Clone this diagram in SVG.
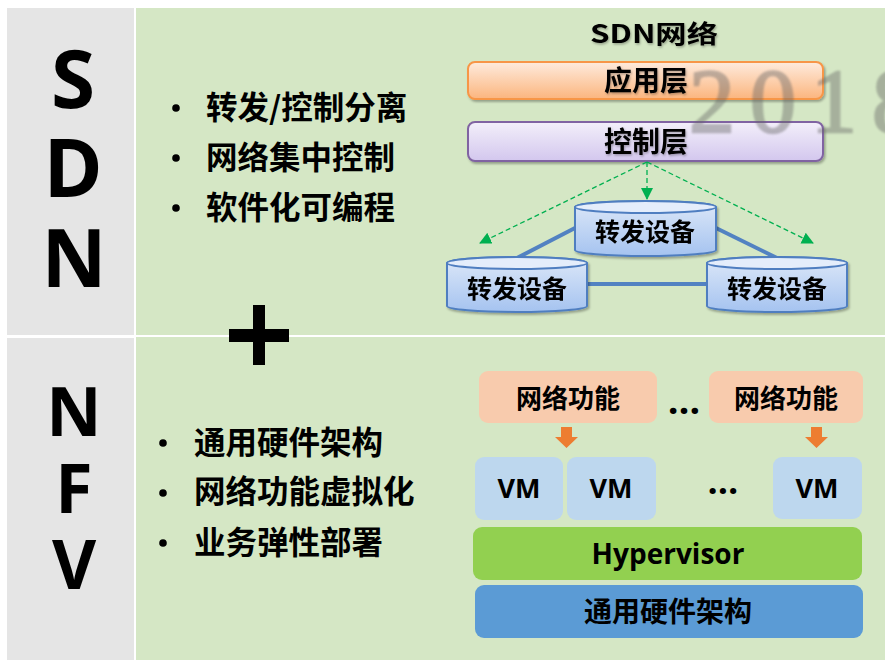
<svg xmlns="http://www.w3.org/2000/svg" width="885" height="660" viewBox="0 0 885 660">
<style>
.cjk{font-family:"Noto Sans CJK SC","Noto Sans",sans-serif;font-weight:bold;fill:#000}
.lat{font-family:"Open Sans","Noto Sans",sans-serif;font-weight:bold;fill:#000}
.big{font-family:"Open Sans","Noto Sans",sans-serif;font-weight:bold;fill:#000;text-anchor:middle}
.c{text-anchor:middle}
.cyl{fill:url(#cylG);stroke:#4F7EC0;stroke-width:2}
.cyltop{fill:#E4EDFB;stroke:#4F7EC0;stroke-width:2}
.link{stroke:#5282C2;stroke-width:4;fill:none}
.dash{stroke:#00B050;stroke-width:1.3;stroke-dasharray:5 3;fill:none}
.nf{fill:#F8CBAD}
.vm{fill:#BDD7EE}
.oarr{fill:#ED7D31}
</style>
<defs>
<linearGradient id="appG" x1="0" y1="0" x2="0" y2="1"><stop offset="0" stop-color="#FEEBDD"/><stop offset="1" stop-color="#FBB57E"/></linearGradient>
<linearGradient id="ctlG" x1="0" y1="0" x2="0" y2="1"><stop offset="0" stop-color="#F3EFFA"/><stop offset="1" stop-color="#D3C7EE"/></linearGradient>
<linearGradient id="cylG" x1="0" y1="0" x2="0" y2="1"><stop offset="0" stop-color="#DDE8F8"/><stop offset="1" stop-color="#A5C3F0"/></linearGradient>
<filter id="sh" x="-10%" y="-20%" width="120%" height="150%"><feDropShadow dx="1.5" dy="2" stdDeviation="1.2" flood-color="#000" flood-opacity="0.3"/></filter>
<filter id="tsh" x="-10%" y="-20%" width="120%" height="150%"><feDropShadow dx="1" dy="1.5" stdDeviation="1" flood-color="#000" flood-opacity="0.3"/></filter>
<filter id="blur"><feGaussianBlur stdDeviation="0.8"/></filter>
<marker id="ga" viewBox="0 0 12 12" refX="11" refY="6" markerWidth="12" markerHeight="12" markerUnits="userSpaceOnUse" orient="auto"><path d="M0,0 L12,6 L0,12 Z" fill="#00B050"/></marker>
</defs>

<rect x="0" y="0" width="885" height="660" fill="#FFFFFF"/>
<!-- panels -->
<rect x="7" y="8" width="127" height="327" fill="#E5E5E5"/>
<rect x="136" y="8" width="749" height="327" fill="#D5E7C5"/>
<rect x="7" y="338" width="127" height="322" fill="#E5E5E5"/>
<rect x="136" y="337" width="749" height="323" fill="#D5E7C5"/>

<!-- side letters -->
<g id="sdn-letters">
<text class="big" x="73" y="108" font-size="80">S</text>
<text class="big" x="73" y="197" font-size="80">D</text>
<text class="big" x="74" y="287" font-size="80">N</text>
</g>
<g id="nfv-letters">
<text class="big" x="74" y="436" font-size="68">N</text>
<text class="big" x="74" y="513" font-size="68">F</text>
<text class="big" x="74" y="589" font-size="68">V</text>
</g>

<!-- plus -->
<g id="plus" fill="#000">
<rect x="253" y="305" width="12" height="60"/>
<rect x="229" y="329" width="60" height="13"/>
</g>

<!-- SDN bullets -->
<g id="sdn-bullets">
<circle cx="176" cy="108" r="3.8" fill="#000"/>
<circle cx="176" cy="158" r="3.8" fill="#000"/>
<circle cx="176" cy="208" r="3.8" fill="#000"/>
<text class="cjk" x="206" y="119" font-size="31.5">转发/控制分离</text>
<text class="cjk" x="206" y="169" font-size="31.5">网络集中控制</text>
<text class="cjk" x="206" y="219" font-size="31.5">软件化可编程</text>
</g>

<!-- NFV bullets -->
<g id="nfv-bullets">
<circle cx="163" cy="443" r="3.8" fill="#000"/>
<circle cx="163" cy="493" r="3.8" fill="#000"/>
<circle cx="163" cy="543" r="3.8" fill="#000"/>
<text class="cjk" x="194" y="454" font-size="31.5">通用硬件架构</text>
<text class="cjk" x="194" y="503" font-size="31.5">网络功能虚拟化</text>
<text class="cjk" x="194" y="554" font-size="31.5">业务弹性部署</text>
</g>

<!-- SDN diagram -->
<text id="sdn-title" class="cjk" x="590" y="43" font-size="25" textLength="128" lengthAdjust="spacingAndGlyphs" filter="url(#tsh)">SDN网络</text>

<g id="app-layer">
<rect x="468" y="62" width="355" height="37" rx="7" fill="url(#appG)" stroke="#F79646" stroke-width="2" filter="url(#sh)"/>
<text class="cjk c" x="646" y="91" font-size="28" filter="url(#tsh)">应用层</text>
</g>
<g id="ctl-layer">
<rect x="468" y="122" width="355" height="39" rx="7" fill="url(#ctlG)" stroke="#8064A2" stroke-width="2" filter="url(#sh)"/>
<text class="cjk c" x="646" y="152" font-size="28" filter="url(#tsh)">控制层</text>
</g>

<g id="connectors">
<line class="link" x1="575" y1="228" x2="517" y2="258"/>
<line class="link" x1="716" y1="228" x2="777" y2="258"/>
<line class="link" x1="587" y1="284" x2="707" y2="284"/>
<line class="dash" x1="647" y1="162" x2="647" y2="199" marker-end="url(#ga)"/>
<line class="dash" x1="647" y1="162" x2="480" y2="243" marker-end="url(#ga)"/>
<line class="dash" x1="647" y1="162" x2="813" y2="243" marker-end="url(#ga)"/>
<path class="oarr" d="M561,427 H572 V437 H578 L566.5,448 L555,437 H561 Z"/>
<path class="oarr" d="M811,427 H822 V437 H828 L816.5,448 L805,437 H811 Z"/>
</g>

<g id="fwd-top" filter="url(#sh)">
<path class="cyl" d="M575,207 L575,250 A70.5,6 0 0 0 716,250 L716,207 A70.5,6 0 0 0 575,207 Z"/>
<ellipse class="cyltop" cx="645.5" cy="207" rx="70.5" ry="6"/>
<text class="cjk c" x="645" y="241" font-size="25">转发设备</text>
</g>
<g id="fwd-left" filter="url(#sh)">
<path class="cyl" d="M447,263 L447,306 A70,6 0 0 0 587,306 L587,263 A70,6 0 0 0 447,263 Z"/>
<ellipse class="cyltop" cx="517" cy="263" rx="70" ry="6"/>
<text class="cjk c" x="517" y="298" font-size="25">转发设备</text>
</g>
<g id="fwd-right" filter="url(#sh)">
<path class="cyl" d="M707,263 L707,306 A70,6 0 0 0 847,306 L847,263 A70,6 0 0 0 707,263 Z"/>
<ellipse class="cyltop" cx="777" cy="263" rx="70" ry="6"/>
<text class="cjk c" x="777" y="298" font-size="25">转发设备</text>
</g>

<!-- watermark -->
<text x="689" y="132" font-family="'Liberation Serif',serif" font-size="92" letter-spacing="15" fill="#666666" stroke="#666666" stroke-width="2.5" opacity="0.42" filter="url(#blur)">2018</text>

<!-- NFV diagram -->
<g id="nf1">
<rect class="nf" x="479" y="371" width="178" height="52" rx="9"/>
<text class="cjk c" x="568" y="408" font-size="26">网络功能</text>
</g>
<text id="dots1" class="lat c" x="684" y="414" font-size="38">…</text>
<g id="nf2">
<rect class="nf" x="709" y="371" width="154" height="52" rx="9"/>
<text class="cjk c" x="786" y="408" font-size="26">网络功能</text>
</g>

<g id="vm1">
<rect class="vm" x="475" y="457" width="88" height="63" rx="9"/>
<text class="lat c" x="519" y="498" font-size="27">VM</text>
</g>
<g id="vm2">
<rect class="vm" x="567" y="457" width="89" height="63" rx="9"/>
<text class="lat c" x="611" y="498" font-size="27">VM</text>
</g>
<text id="dots2" class="lat c" x="723" y="494" font-size="36">…</text>
<g id="vm3">
<rect class="vm" x="773" y="457" width="89" height="62" rx="9"/>
<text class="lat c" x="817" y="498" font-size="27">VM</text>
</g>

<g id="hypervisor">
<rect x="473" y="527" width="389" height="53" rx="9" fill="#92D050"/>
<text class="lat c" x="668" y="564" font-size="28">Hypervisor</text>
</g>
<g id="hardware">
<rect x="475" y="585" width="388" height="53" rx="9" fill="#5B9BD5"/>
<text class="cjk c" x="668" y="622" font-size="28">通用硬件架构</text>
</g>
</svg>
